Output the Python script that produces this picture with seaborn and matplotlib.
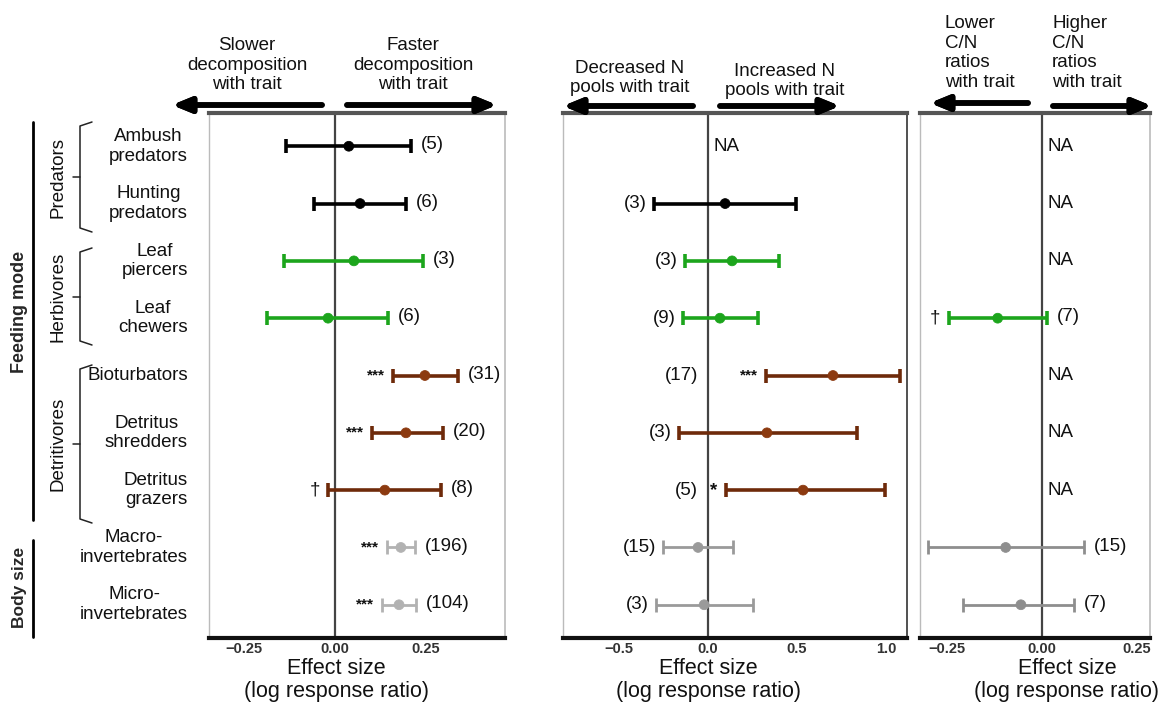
import numpy as np
import pandas as pd
import seaborn as sns
import matplotlib.pyplot as plt
from matplotlib import transforms

# ---- data -------------------------------------------------------------
rows = ["Ambush\npredators", "Hunting\npredators", "Leaf\npiercers", "Leaf\nchewers",
        "Bioturbators", "Detritus\nshredders", "Detritus\ngrazers",
        "Macro-\ninvertebrates", "Micro-\ninvertebrates"]
groups = ["pred", "pred", "herb", "herb", "det", "det", "det", "size", "size"]

decomp_mean = [0.038, 0.069, 0.052, -0.019, 0.247, 0.195, 0.137, 0.181, 0.176]
decomp_lo = [-0.135, -0.058, -0.140, -0.187, 0.159, 0.102, -0.019, 0.143, 0.129]
decomp_hi = [0.209, 0.195, 0.242, 0.146, 0.338, 0.297, 0.291, 0.220, 0.223]
decomp_n = ["(5)", "(6)", "(3)", "(6)", "(31)", "(20)", "(8)", "(196)", "(104)"]
decomp_sig = ["", "", "", "", "***", "***", "\u2020", "***", "***"]

npool_mean = [np.nan, 0.096, 0.135, 0.067, 0.702, 0.331, 0.534, -0.056, -0.022]
npool_lo = [np.nan, -0.303, -0.129, -0.140, 0.326, -0.163, 0.101, -0.253, -0.292]
npool_hi = [np.nan, 0.494, 0.399, 0.281, 1.079, 0.837, 0.994, 0.140, 0.253]
npool_n = ["", "(3)", "(3)", "(9)", "(17)", "(3)", "(5)", "(15)", "(3)"]
npool_sig = ["", "", "", "", "***", "", "*", "", ""]

cn_mean = [np.nan, np.nan, np.nan, -0.116, np.nan, np.nan, np.nan, -0.095, -0.055]
cn_lo = [np.nan, np.nan, np.nan, -0.245, np.nan, np.nan, np.nan, -0.300, -0.208]
cn_hi = [np.nan, np.nan, np.nan, 0.013, np.nan, np.nan, np.nan, 0.110, 0.084]
cn_n = ["", "", "", "(7)", "", "", "", "(15)", "(7)"]
cn_sig = ["", "", "", "\u2020", "", "", "", "", ""]

W, H = 1163, 704
sns.set_style("white")
plt.rcParams['font.family'] = ['Liberation Sans', 'DejaVu Sans']

fig = plt.figure(figsize=(W / 100, H / 100), dpi=100)
FS = 13.5


def fx(x):
    return x / W


def fy(y):
    return 1 - y / H


def add_panel(x0, x1, xlim, ticks, ticklabels, mean, lo, hi, n, sig, count_side,
              size_color, right_spine="#bbbbbb"):
    ax = fig.add_axes([fx(x0), fy(638), fx(x1 - x0), fy(113) - fy(638)])
    pos = np.arange(len(rows))
    df = pd.DataFrame({"pos": pos, "mean": mean, "lo": lo, "hi": hi,
                       "group": groups, "n": n, "sig": sig})
    pal = {"pred": "#000000", "herb": "#1ca51c", "det": "#6e2a0a", "size": size_color}
    face = {"pred": "#000000", "herb": "#1ca51c", "det": "#8c3a10", "size": size_color}
    ax.axvline(0, color="#444444", lw=1.6, zorder=1)
    for g, sub in df.dropna(subset=["mean"]).groupby("group"):
        lw = 2.0 if g == "size" else 2.6
        ax.errorbar(sub["mean"], sub["pos"], xerr=[sub["mean"] - sub["lo"], sub["hi"] - sub["mean"]],
                    fmt="none", ecolor=pal[g], elinewidth=lw, capsize=5, capthick=lw, zorder=2)
    sns.scatterplot(data=df.dropna(subset=["mean"]), x="mean", y="pos", hue="group",
                    palette=face, s=50, edgecolor=None, legend=False, ax=ax, zorder=3)
    for _, r in df.iterrows():
        if np.isnan(r["mean"]):
            ax.annotate("NA", (0, r["pos"]), xytext=(4, 0), textcoords="offset points",
                        ha="left", va="center", fontsize=FS, color="#111111")
            continue
        if count_side == "right":
            ax.annotate(r["n"], (r["hi"], r["pos"]), xytext=(7, 1), textcoords="offset points",
                        ha="left", va="center", fontsize=FS, color="#111111")
        if r["sig"]:
            ax.annotate(r["sig"], (r["lo"], r["pos"]), xytext=(-6, 0), textcoords="offset points",
                        ha="right", va="center", fontsize=FS if r["sig"] != "***" else 11,
                        fontweight="bold" if r["sig"] != "\u2020" else "normal", color="#111111")
        if count_side == "left":
            if r["sig"]:
                ax.annotate(r["n"], (0, r["pos"]), xytext=(-7, 0), textcoords="offset points",
                            ha="right", va="center", fontsize=FS, color="#111111")
            else:
                ax.annotate(r["n"], (r["lo"], r["pos"]), xytext=(-5, 0), textcoords="offset points",
                            ha="right", va="center", fontsize=FS, color="#111111")
    ax.set_xlim(*xlim)
    ax.set_ylim(len(rows) - 0.42, -0.58)
    ax.set_xticks(ticks)
    ax.set_xticklabels(ticklabels, fontsize=10.5, fontweight="bold", color="#333333")
    ax.tick_params(axis="x", length=0, pad=3)
    ax.set_yticks([])
    ax.set_xlabel("")
    ax.set_ylabel("")
    ax.spines["bottom"].set_linewidth(3)
    ax.spines["bottom"].set_color("#111111")
    ax.spines["top"].set_linewidth(3)
    ax.spines["top"].set_color("#555555")
    ax.spines["left"].set_color("#bbbbbb")
    ax.spines["left"].set_linewidth(1)
    ax.spines["right"].set_color(right_spine)
    ax.spines["right"].set_linewidth(1.2)
    return ax


ax1 = add_panel(209, 505, (-0.346, 0.467), [-0.25, 0, 0.25], ["\u22120.25", "0.00", "0.25"],
                decomp_mean, decomp_lo, decomp_hi, decomp_n, decomp_sig, "right", "#b2b2b2")
ax2 = add_panel(563, 907, (-0.815, 1.118), [-0.5, 0, 0.5, 1.0], ["\u22120.5", "0.0", "0.5", "1.0"],
                npool_mean, npool_lo, npool_hi, npool_n, npool_sig, "left", "#9a9a9a",
                right_spine="#333333")
ax3 = add_panel(920, 1150, (-0.32, 0.284), [-0.25, 0, 0.25], ["\u22120.25", "0.00", "0.25"],
                cn_mean, cn_lo, cn_hi, cn_n, cn_sig, "right", "#8e8e8e")

# ---- x labels --------------------------------------------------------
for xc in [336, 708, 1067]:
    fig.text(fx(xc), fy(669), "Effect size", ha="center", va="center", fontsize=15.5, color="#111111")
    fig.text(fx(xc), fy(692), "(log response ratio)", ha="center", va="center", fontsize=15.5,
             color="#111111")

# ---- header texts + arrows -------------------------------------------
headers = [
    (247, 65, "Slower\ndecomposition\nwith trait", "center"),
    (413, 65, "Faster\ndecomposition\nwith trait", "center"),
    (630, 78, "Decreased N\npools with trait", "center"),
    (785, 81, "Increased N\npools with trait", "center"),
    (945, 53, "Lower\nC/N\nratios\nwith trait", "left"),
    (1052, 53, "Higher\nC/N\nratios\nwith trait", "left"),
]
for x, y, s, ha in headers:
    fig.text(fx(x), fy(y), s, ha=ha, va="center", fontsize=FS, color="#111111",
             multialignment="center" if ha == "center" else "left", linespacing=1.2)

arrows = [(322, 172, 105), (347, 497, 105), (693, 563, 106), (720, 840, 106),
          (1028, 930, 103), (1053, 1152, 106)]
for xs, xe, y in arrows:
    fig.add_artist(plt.annotate("", xy=(fx(xe), fy(y)), xytext=(fx(xs), fy(y)),
                                xycoords="figure fraction", textcoords="figure fraction",
                                arrowprops=dict(arrowstyle="-|>,head_width=0.45,head_length=1.1",
                                                lw=4, color="black", shrinkA=0, shrinkB=0)))

# ---- row labels and group brackets -------------------------------------
trans = transforms.blended_transform_factory(fig.transFigure, ax1.transData)
for i, lab in enumerate(rows):
    fig.text(fx(188), i, lab, transform=trans, ha="right", va="center",
             multialignment="center", fontsize=FS, color="#111111", linespacing=1.2)

brackets = [("Predators", 122, 232), ("Herbivores", 248, 345), ("Detritivores", 365, 523)]
for lab, y0, y1 in brackets:
    ym = (y0 + y1) / 2
    fig.add_artist(plt.Line2D([fx(92), fx(80), fx(80), fx(92)], [fy(y0), fy(y0 + 4), fy(y1 - 4), fy(y1)],
                              color="#222222", lw=1.1))
    fig.add_artist(plt.Line2D([fx(80), fx(73)], [fy(ym), fy(ym)], color="#222222", lw=1.1))
    fig.text(fx(58), fy(ym), lab, rotation=90, ha="center", va="center", fontsize=FS, color="#111111")

fig.add_artist(plt.Line2D([fx(33), fx(33)], [fy(122), fy(520)], color="black", lw=2))
fig.text(fx(20), fy(312), "Feeding mode", rotation=90, ha="center", va="center",
         fontsize=13, fontweight="bold")
fig.add_artist(plt.Line2D([fx(33), fx(33)], [fy(540), fy(637)], color="black", lw=2))
fig.text(fx(20), fy(587), "Body size", rotation=90, ha="center", va="center",
         fontsize=12.5, fontweight="bold")

plt.savefig("out.png", dpi=100)
